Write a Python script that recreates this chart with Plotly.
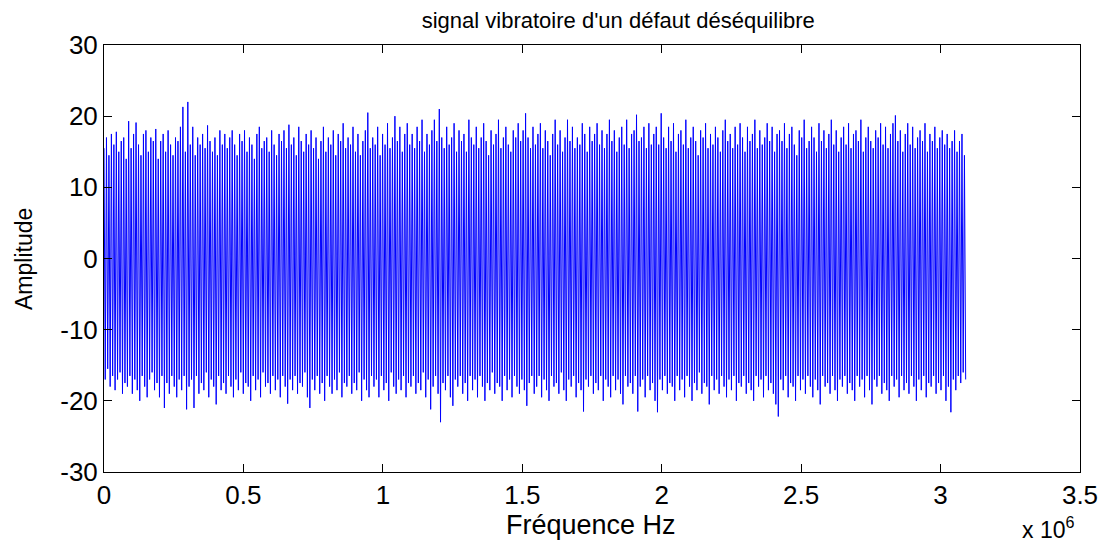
import plotly.graph_objects as go

# Upper extremes of each oscillation (Amplitude), left to right
highs = [
    15.5, 17.0, 14.5, 17.5, 16.0, 17.8, 15.0, 16.5, 17.0, 14.0, 19.3, 15.5, 17.5, 19.1, 16.0, 14.5, 17.5, 18.0, 15.0, 17.0, 16.5, 18.2, 14.0, 16.5, 17.5,
    15.0, 18.0, 16.0, 14.5, 17.0, 16.5, 18.5, 21.3, 15.0, 22.0, 16.0, 18.5, 14.5, 17.0, 16.0, 17.5, 15.5, 18.7, 16.5, 15.0, 17.0, 14.5, 18.0, 16.0, 17.5,
    15.5, 17.0, 18.0, 16.0, 14.5, 17.5, 16.5, 18.0, 15.0, 17.0, 16.0, 14.0, 17.5, 18.5, 15.5, 16.5, 17.0, 15.0, 18.0, 16.0, 14.5, 17.5, 16.5, 18.0, 15.5,
    18.8, 16.0, 17.0, 14.5, 18.5, 16.5, 15.0, 17.5, 16.0, 18.0, 15.5, 17.0, 14.0, 16.5, 18.5, 15.0, 17.0, 16.0, 18.0, 14.5, 17.5, 16.5, 19.0, 15.5, 17.0,
    16.0, 18.5, 15.0, 17.5, 14.5, 16.5, 18.0, 20.5, 15.5, 17.0, 16.0, 18.5, 14.5, 17.5, 16.0, 19.0, 15.5, 17.0, 20.0, 16.5, 18.5, 15.0, 17.5, 19.0, 16.0,
    17.5, 15.5, 18.5, 16.5, 19.5, 15.0, 17.5, 16.0, 18.0, 19.5, 16.5, 21.0, 17.0, 15.5, 18.5, 16.0, 17.0, 19.0, 15.0, 18.0, 16.5, 17.5, 15.0, 19.5, 17.0,
    16.0, 18.5, 15.5, 17.0, 19.0, 16.5, 14.5, 18.0, 16.0, 17.5, 19.5, 15.5, 17.0, 18.5, 16.0, 15.0, 18.0, 17.0, 19.0, 16.5, 18.0, 20.4, 17.0, 15.5, 18.5,
    16.0, 17.5, 19.0, 15.5, 18.0, 16.5, 14.5, 17.5, 19.5, 16.0, 18.0, 15.0, 17.0, 19.5, 16.5, 18.5, 15.5, 17.0, 16.0, 19.0, 17.5, 15.0, 18.5, 16.5, 17.5,
    19.0, 16.0, 18.0, 15.5, 17.5, 19.5, 16.5, 18.0, 15.0, 17.0, 18.5, 16.0, 19.5, 15.5, 17.5, 18.0, 20.2, 16.5, 17.0, 18.5, 15.5, 19.0, 16.0, 17.5, 18.5,
    16.0, 20.4, 17.0, 15.5, 18.5, 16.5, 19.0, 15.0, 17.5, 18.0, 16.0, 19.5, 15.5, 17.0, 18.5, 16.5, 14.5, 18.0, 17.0, 19.0, 15.5, 17.5, 16.0, 18.5, 17.0,
    15.0, 18.0, 19.5, 16.5, 17.5, 15.5, 18.5, 16.0, 19.0, 17.0, 15.0, 18.5, 16.5, 17.5, 19.5, 15.5, 18.0, 16.0, 17.0, 19.0, 16.5, 18.5, 15.0, 17.5, 18.0,
    16.5, 19.0, 15.5, 17.5, 18.5, 16.0, 14.5, 18.0, 17.0, 19.5, 15.5, 16.5, 18.5, 17.0, 15.0, 19.0, 16.5, 18.0, 15.5, 17.5, 19.5, 16.0, 18.0, 15.0, 17.0,
    18.5, 16.0, 19.0, 15.5, 17.5, 18.0, 16.5, 19.5, 15.0, 17.0, 18.5, 16.5, 15.5, 18.0, 17.0, 19.0, 16.0, 18.5, 15.5, 17.5, 19.0, 20.1, 16.5, 18.0, 15.0,
    17.5, 19.0, 16.0, 18.5, 15.5, 17.0, 18.0, 16.5, 19.0, 15.0, 17.5, 16.5, 18.5, 15.5, 17.0, 18.0, 16.0, 17.5, 15.5, 16.5, 18.0, 15.0, 16.5, 17.5, 14.5,
]

# Lower extremes of each oscillation (Amplitude), left to right
lows = [
    -17.0, -15.5, -18.0, -16.5, -18.5, -17.0, -16.0, -19.0, -17.5, -18.0, -16.5, -19.0, -17.0, -18.5, -20.0, -16.5, -18.0, -19.5, -17.0, -16.0, -18.5, -17.5, -19.5, -16.5, -21.0,
    -17.5, -19.0, -16.5, -18.0, -19.5, -17.0, -18.5, -16.5, -21.2, -18.0, -17.0, -21.0, -16.5, -19.0, -17.5, -18.5, -16.0, -19.5, -17.0, -18.0, -20.5, -16.5, -18.5, -17.5, -19.0,
    -16.5, -18.0, -19.5, -17.0, -18.5, -16.0, -19.0, -17.5, -18.0, -20.0, -16.5, -18.5, -17.0, -19.5, -16.0, -18.0, -17.5, -19.0, -16.5, -18.5, -17.0, -19.5, -16.5, -18.0, -20.4,
    -17.0, -18.5, -16.5, -19.0, -17.5, -18.0, -16.0, -19.5, -21.0, -17.0, -18.5, -16.5, -19.0, -17.5, -20.0, -16.5, -18.0, -19.0, -17.0, -18.5, -16.0, -19.5, -17.5, -18.0, -16.5,
    -19.0, -17.5, -18.5, -16.0, -20.0, -17.0, -18.5, -19.5, -16.5, -18.0, -17.0, -19.5, -16.5, -18.5, -17.5, -20.0, -16.0, -18.0, -19.0, -17.0, -18.5, -16.5, -19.5, -17.5, -18.0,
    -16.5, -19.0, -17.5, -18.5, -16.0, -19.5, -17.0, -21.2, -18.0, -16.5, -19.0, -23.0, -17.5, -18.5, -16.5, -19.5, -20.7, -17.0, -18.0, -16.5, -19.0, -17.5, -20.0, -16.5, -18.5,
    -17.0, -19.5, -16.5, -18.0, -20.0, -17.5, -18.5, -16.0, -19.0, -17.5, -18.0, -20.0, -16.5, -18.5, -17.0, -19.5, -16.5, -18.0, -19.0, -17.0, -18.5, -20.7, -17.5, -16.5, -19.0,
    -18.0, -16.5, -19.5, -17.0, -18.5, -20.0, -16.5, -18.0, -17.5, -19.0, -16.0, -18.5, -20.0, -17.0, -18.0, -16.5, -19.5, -17.5, -18.5, -21.5, -17.0, -18.0, -16.5, -19.0, -17.5,
    -18.5, -16.5, -20.0, -17.0, -18.0, -19.5, -16.5, -18.5, -17.0, -19.0, -20.5, -16.5, -18.0, -17.5, -19.0, -16.5, -21.5, -18.0, -17.0, -19.5, -16.5, -18.5, -17.5, -20.0, -21.6,
    -17.0, -18.5, -16.5, -19.0, -17.5, -18.0, -20.0, -16.5, -18.5, -17.0, -19.5, -16.5, -18.0, -20.0, -17.5, -18.5, -16.0, -19.0, -17.5, -18.0, -20.5, -16.5, -18.5, -17.0, -19.0,
    -16.5, -18.0, -19.5, -17.0, -18.5, -16.5, -20.0, -17.5, -18.0, -16.5, -19.0, -17.5, -18.5, -20.0, -16.5, -18.0, -17.0, -19.5, -16.5, -18.5, -17.5, -19.0, -20.5, -22.2, -17.0,
    -18.5, -16.5, -19.5, -17.5, -18.0, -20.0, -16.5, -18.5, -17.0, -19.0, -16.5, -18.0, -19.5, -17.0, -18.5, -20.5, -16.5, -18.0, -17.5, -19.0, -16.5, -18.5, -20.0, -17.0, -18.0,
    -16.5, -19.0, -17.5, -18.5, -20.0, -16.5, -18.0, -17.0, -19.5, -16.5, -18.5, -20.5, -17.0, -18.0, -16.5, -19.0, -17.5, -18.5, -20.0, -16.5, -18.0, -17.0, -19.5, -16.5, -18.5,
    -17.5, -19.0, -16.5, -18.0, -20.0, -17.0, -18.5, -16.5, -19.5, -17.5, -18.0, -16.5, -19.0, -17.5, -18.5, -16.5, -20.0, -18.0, -21.6, -17.0, -18.5, -16.5, -17.5, -16.0, -17.0,
]

f_end = 3.09e6  # last frequency sample, Hz
x_ticks = [0, 0.5e6, 1e6, 1.5e6, 2e6, 2.5e6, 3e6, 3.5e6]
x_tick_text = ["0", "0.5", "1", "1.5", "2", "2.5", "3", "3.5"]
y_ticks = [-30, -20, -10, 0, 10, 20, 30]
y_tick_text = ["-30", "-20", "-10", "0", "10", "20", "30"]

amp = []
for h, l in zip(highs, lows):
    amp.extend([h, l])
n = len(amp)
freq = [f_end * i / (n - 1) for i in range(n)]

fig = go.Figure()
fig.add_trace(go.Scatter(x=freq, y=amp, mode="lines",
                         line=dict(color="#0000ff", width=1), hoverinfo="skip"))

font = "Liberation Sans, Arial, sans-serif"
axis_common = dict(showline=True, linecolor="black", linewidth=1, mirror="allticks",
                   ticks="inside", ticklen=8, tickcolor="black", showgrid=False,
                   zeroline=False, tickfont=dict(family=font, size=26, color="black"))

fig.update_layout(
    width=1110, height=548,
    margin=dict(l=104, r=24, t=45, b=76),
    paper_bgcolor="white", plot_bgcolor="white",
    showlegend=False,
    title=dict(text="signal vibratoire d'un défaut déséquilibre", x=0.557, xanchor="center",
               y=0.963, yanchor="middle", font=dict(family=font, size=22, color="black")),
    xaxis=dict(range=[0, 3.5e6], tickvals=x_ticks, ticktext=x_tick_text, **axis_common),
    yaxis=dict(range=[-30, 30], tickvals=y_ticks, ticktext=y_tick_text, **axis_common),
)
fig.add_annotation(text="Fréquence Hz", xref="paper", yref="paper", x=0.499, y=-0.085,
                   xanchor="center", yanchor="top", showarrow=False,
                   font=dict(family=font, size=27, color="black"))
fig.add_annotation(text="Amplitude", xref="paper", yref="paper", x=-0.0825, y=0.5,
                   xanchor="center", yanchor="middle", textangle=-90, showarrow=False,
                   font=dict(family=font, size=23, color="black"))
fig.add_annotation(text="x 10<sup>6</sup>", xref="paper", yref="paper", x=0.967, y=-0.172,
                   xanchor="center", yanchor="bottom", showarrow=False,
                   font=dict(family=font, size=23, color="black"))

fig.write_html("out.html")
